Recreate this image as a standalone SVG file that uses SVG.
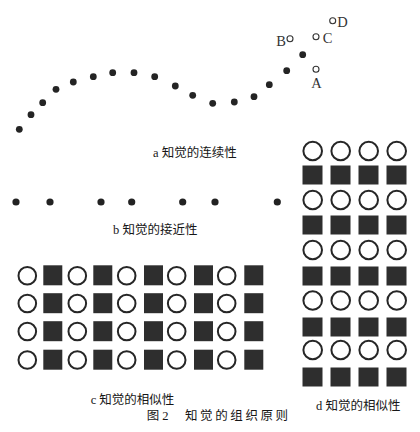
<svg xmlns="http://www.w3.org/2000/svg" width="420" height="432" viewBox="0 0 420 432">
<style>
.dot{fill:#242424}
.sdot{fill:#222}
.oc{fill:#fff;stroke:#333;stroke-width:1.1}
.ring{fill:#fff;stroke:#262626;stroke-width:2}
.sq{fill:#2e2e2e}
.t{font-family:"Liberation Serif","Noto Sans CJK SC",serif;fill:#161616;font-size:12.5px}
.l{font-family:"Liberation Serif",serif;fill:#333;font-size:14.5px}
</style>
<rect width="420" height="432" fill="#fff"/>
<g id="a-continuity">
<circle class="dot" cx="19.3" cy="129.3" r="3.4"/>
<circle class="dot" cx="31" cy="114.7" r="3.4"/>
<circle class="dot" cx="42.7" cy="102.7" r="3.4"/>
<circle class="dot" cx="56" cy="89.3" r="3.4"/>
<circle class="dot" cx="73.3" cy="82" r="3.4"/>
<circle class="dot" cx="93.3" cy="76.7" r="3.4"/>
<circle class="dot" cx="112.7" cy="72.7" r="3.4"/>
<circle class="dot" cx="134" cy="72.7" r="3.4"/>
<circle class="dot" cx="154.7" cy="76.7" r="3.4"/>
<circle class="dot" cx="175.3" cy="86" r="3.4"/>
<circle class="dot" cx="192.7" cy="95.3" r="3.4"/>
<circle class="dot" cx="212.7" cy="103.3" r="3.4"/>
<circle class="dot" cx="234.3" cy="102" r="3.4"/>
<circle class="dot" cx="254" cy="96.7" r="3.4"/>
<circle class="dot" cx="269.3" cy="84.7" r="3.4"/>
<circle class="dot" cx="286.7" cy="70.7" r="3.4"/>
<circle class="dot" cx="302.7" cy="54.7" r="3.4"/>
<circle class="oc" cx="290" cy="38.7" r="3"/>
<text class="l" x="281" y="45.5" text-anchor="middle">B</text>
<circle class="oc" cx="316" cy="36.7" r="3"/>
<text class="l" x="327.5" y="43" text-anchor="middle">C</text>
<circle class="oc" cx="332.7" cy="20.7" r="3"/>
<text class="l" x="342.5" y="27" text-anchor="middle">D</text>
<circle class="oc" cx="316" cy="69.3" r="3"/>
<text class="l" x="316.5" y="87.5" text-anchor="middle">A</text>
<text class="t" x="153" y="157">a 知觉的连续性</text>
</g>
<g id="b-proximity">
<circle class="sdot" cx="16" cy="202" r="3.6"/>
<circle class="sdot" cx="50" cy="202" r="3.6"/>
<circle class="sdot" cx="101" cy="202" r="3.6"/>
<circle class="sdot" cx="131.7" cy="202" r="3.6"/>
<circle class="sdot" cx="182.7" cy="202" r="3.6"/>
<circle class="sdot" cx="215" cy="202" r="3.6"/>
<circle class="sdot" cx="277.3" cy="202" r="3.6"/>
<text class="t" x="113" y="234">b 知觉的接近性</text>
</g>
<g id="c-similarity">
<g id="c-row1">
<circle class="ring" cx="27.3" cy="275.7" r="8.8"/><rect class="sq" x="43.3" y="265.3" width="19" height="20"/>
<circle class="ring" cx="77.3" cy="275.7" r="8.8"/><rect class="sq" x="93.3" y="265.3" width="19" height="20"/>
<circle class="ring" cx="126.7" cy="275.7" r="8.8"/><rect class="sq" x="144" y="265.3" width="19" height="20"/>
<circle class="ring" cx="176.7" cy="275.7" r="8.8"/><rect class="sq" x="194" y="265.3" width="19" height="20"/>
<circle class="ring" cx="226.7" cy="275.7" r="8.8"/><rect class="sq" x="244.3" y="265.3" width="19" height="20"/>
</g>
<g id="c-row2">
<circle class="ring" cx="27.3" cy="303.5" r="8.8"/><rect class="sq" x="43.3" y="293.2" width="19" height="20"/>
<circle class="ring" cx="77.3" cy="303.5" r="8.8"/><rect class="sq" x="93.3" y="293.2" width="19" height="20"/>
<circle class="ring" cx="126.7" cy="303.5" r="8.8"/><rect class="sq" x="144" y="293.2" width="19" height="20"/>
<circle class="ring" cx="176.7" cy="303.5" r="8.8"/><rect class="sq" x="194" y="293.2" width="19" height="20"/>
<circle class="ring" cx="226.7" cy="303.5" r="8.8"/><rect class="sq" x="244.3" y="293.2" width="19" height="20"/>
</g>
<g id="c-row3">
<circle class="ring" cx="27.3" cy="331.5" r="8.8"/><rect class="sq" x="43.3" y="321.2" width="19" height="20"/>
<circle class="ring" cx="77.3" cy="331.5" r="8.8"/><rect class="sq" x="93.3" y="321.2" width="19" height="20"/>
<circle class="ring" cx="126.7" cy="331.5" r="8.8"/><rect class="sq" x="144" y="321.2" width="19" height="20"/>
<circle class="ring" cx="176.7" cy="331.5" r="8.8"/><rect class="sq" x="194" y="321.2" width="19" height="20"/>
<circle class="ring" cx="226.7" cy="331.5" r="8.8"/><rect class="sq" x="244.3" y="321.2" width="19" height="20"/>
</g>
<g id="c-row4">
<circle class="ring" cx="27.3" cy="360" r="8.8"/><rect class="sq" x="43.3" y="349.7" width="19" height="20"/>
<circle class="ring" cx="77.3" cy="360" r="8.8"/><rect class="sq" x="93.3" y="349.7" width="19" height="20"/>
<circle class="ring" cx="126.7" cy="360" r="8.8"/><rect class="sq" x="144" y="349.7" width="19" height="20"/>
<circle class="ring" cx="176.7" cy="360" r="8.8"/><rect class="sq" x="194" y="349.7" width="19" height="20"/>
<circle class="ring" cx="226.7" cy="360" r="8.8"/><rect class="sq" x="244.3" y="349.7" width="19" height="20"/>
</g>
<text class="t" x="90.7" y="404">c 知觉的相似性</text>
</g>
<g id="d-similarity">
<g id="d-circles">
<circle class="ring" cx="312.7" cy="151" r="9.3"/><circle class="ring" cx="340.7" cy="151" r="9.3"/><circle class="ring" cx="368.7" cy="151" r="9.3"/><circle class="ring" cx="396.7" cy="151" r="9.3"/>
<circle class="ring" cx="312.7" cy="200" r="9.3"/><circle class="ring" cx="340.7" cy="200" r="9.3"/><circle class="ring" cx="368.7" cy="200" r="9.3"/><circle class="ring" cx="396.7" cy="200" r="9.3"/>
<circle class="ring" cx="312.7" cy="250" r="9.3"/><circle class="ring" cx="340.7" cy="250" r="9.3"/><circle class="ring" cx="368.7" cy="250" r="9.3"/><circle class="ring" cx="396.7" cy="250" r="9.3"/>
<circle class="ring" cx="312.7" cy="300.5" r="9.3"/><circle class="ring" cx="340.7" cy="300.5" r="9.3"/><circle class="ring" cx="368.7" cy="300.5" r="9.3"/><circle class="ring" cx="396.7" cy="300.5" r="9.3"/>
<circle class="ring" cx="312.7" cy="350" r="9.3"/><circle class="ring" cx="340.7" cy="350" r="9.3"/><circle class="ring" cx="368.7" cy="350" r="9.3"/><circle class="ring" cx="396.7" cy="350" r="9.3"/>
</g>
<g id="d-squares">
<rect class="sq" x="302.5" y="165.5" width="20" height="19"/><rect class="sq" x="330.5" y="165.5" width="20" height="19"/><rect class="sq" x="358.5" y="165.5" width="20" height="19"/><rect class="sq" x="386.5" y="165.5" width="20" height="19"/>
<rect class="sq" x="302.5" y="215.5" width="20" height="19"/><rect class="sq" x="330.5" y="215.5" width="20" height="19"/><rect class="sq" x="358.5" y="215.5" width="20" height="19"/><rect class="sq" x="386.5" y="215.5" width="20" height="19"/>
<rect class="sq" x="302.5" y="266.5" width="20" height="19"/><rect class="sq" x="330.5" y="266.5" width="20" height="19"/><rect class="sq" x="358.5" y="266.5" width="20" height="19"/><rect class="sq" x="386.5" y="266.5" width="20" height="19"/>
<rect class="sq" x="302.5" y="317.5" width="20" height="19"/><rect class="sq" x="330.5" y="317.5" width="20" height="19"/><rect class="sq" x="358.5" y="317.5" width="20" height="19"/><rect class="sq" x="386.5" y="317.5" width="20" height="19"/>
<rect class="sq" x="302.5" y="367.5" width="20" height="19"/><rect class="sq" x="330.5" y="367.5" width="20" height="19"/><rect class="sq" x="358.5" y="367.5" width="20" height="19"/><rect class="sq" x="386.5" y="367.5" width="20" height="19"/>
</g>
<text class="t" x="316" y="410">d 知觉的相似性</text>
</g>
<g id="caption">
<text class="t" x="146.7" y="420">图 2</text>
<text class="t" x="185" y="420" letter-spacing="2.6">知觉的组织原则</text>
</g>
</svg>
